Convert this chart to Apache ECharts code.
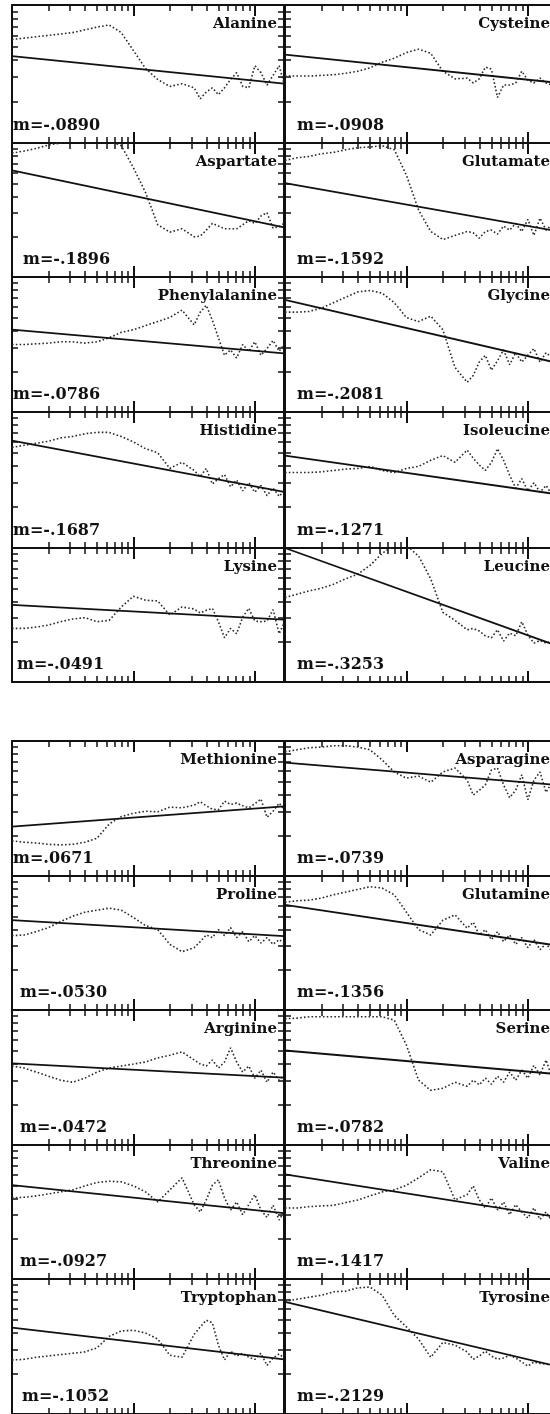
<!DOCTYPE html>
<html><head><meta charset="utf-8">
<script src="https://cdn.jsdelivr.net/npm/echarts@6/dist/echarts.min.js"></script>
<style>html,body{margin:0;padding:0;background:#fff}#c{width:550px;height:1414px}</style>
</head><body><div id="c"></div>
<script>
// ---- DATA (x: log10 of frequency, y: log10 of power, panel spans one decade) ----
const names = ["Alanine","Cysteine","Aspartate","Glutamate","Phenylalanine","Glycine","Histidine","Isoleucine","Lysine","Leucine",
               "Methionine","Asparagine","Proline","Glutamine","Arginine","Serine","Threonine","Valine","Tryptophan","Tyrosine"];
const slopes = [-0.0890,-0.0908,-0.1896,-0.1592,-0.0786,-0.2081,-0.1687,-0.1271,-0.0491,-0.3253,
                0.0671,-0.0739,-0.0530,-0.1356,-0.0472,-0.0782,-0.0927,-0.1417,-0.1052,-0.2129];
const xs = [0,0.1,0.2,0.3,0.4,0.5,0.6,0.7,0.8,0.9,1.0,1.1,1.2,1.3,1.4,1.5,1.55,1.6,1.65,1.7,1.75,1.8,1.85,1.9,1.95,2.0,2.05,2.1,2.15,2.2,2.24];
const xMax = 2.24;
const lineStart = [0.63,0.64,0.795,0.70,0.61,0.83,0.79,0.68,0.575,1.0,0.365,0.84,0.67,0.785,0.605,0.70,0.70,0.78,0.64,0.83];
const lineEnd   = [0.431,0.437,0.370,0.343,0.434,0.364,0.412,0.395,0.465,0.271,0.515,0.674,0.551,0.481,0.499,0.525,0.492,0.463,0.404,0.353];

const alanine = [0.75,0.76,0.77,0.78,0.79,0.80,0.82,0.84,0.855,0.80,0.67,0.54,0.46,0.41,0.43,0.40,0.32,0.37,0.40,0.35,0.40,0.46,0.51,0.41,0.40,0.56,0.51,0.42,0.49,0.56,0.43];
const cysteine = [0.485,0.485,0.485,0.49,0.495,0.505,0.52,0.545,0.585,0.615,0.655,0.68,0.65,0.52,0.465,0.47,0.435,0.465,0.55,0.535,0.33,0.42,0.42,0.435,0.52,0.455,0.435,0.47,0.435,0.42,0.435];
const aspartate = [0.925,0.94,0.96,0.985,1.0,1.015,1.02,1.02,1.015,0.98,0.815,0.63,0.39,0.335,0.36,0.30,0.305,0.35,0.40,0.38,0.36,0.36,0.36,0.39,0.42,0.40,0.455,0.48,0.365,0.375,0.40];
const glutamate = [0.87,0.89,0.90,0.92,0.93,0.95,0.965,0.97,0.98,0.95,0.76,0.50,0.34,0.28,0.31,0.34,0.33,0.29,0.34,0.35,0.32,0.38,0.35,0.40,0.34,0.43,0.31,0.44,0.35,0.39,0.34];
const phenylalanine = [0.50,0.50,0.505,0.51,0.52,0.52,0.51,0.52,0.55,0.59,0.61,0.64,0.67,0.70,0.755,0.645,0.74,0.79,0.68,0.55,0.42,0.46,0.40,0.50,0.45,0.52,0.42,0.47,0.53,0.45,0.50];
const glycine = [0.74,0.74,0.745,0.77,0.81,0.85,0.89,0.90,0.88,0.81,0.70,0.67,0.71,0.61,0.33,0.22,0.27,0.37,0.42,0.31,0.38,0.46,0.35,0.44,0.37,0.42,0.47,0.37,0.44,0.40,0.42];
const histidine = [0.74,0.755,0.77,0.785,0.81,0.82,0.84,0.85,0.85,0.82,0.78,0.73,0.70,0.585,0.63,0.57,0.525,0.585,0.47,0.51,0.54,0.45,0.50,0.42,0.48,0.41,0.46,0.385,0.44,0.38,0.42];
const isoleucine = [0.555,0.555,0.555,0.56,0.57,0.58,0.585,0.60,0.57,0.555,0.585,0.60,0.645,0.68,0.63,0.72,0.66,0.61,0.57,0.63,0.73,0.645,0.535,0.44,0.51,0.42,0.48,0.41,0.46,0.39,0.42];
const lysine = [0.40,0.40,0.41,0.425,0.45,0.47,0.48,0.45,0.46,0.56,0.64,0.61,0.605,0.50,0.56,0.545,0.515,0.535,0.55,0.45,0.33,0.40,0.36,0.485,0.55,0.455,0.45,0.455,0.54,0.36,0.44];
const leucine = [0.63,0.655,0.68,0.70,0.73,0.77,0.805,0.87,0.96,1.02,1.02,0.94,0.77,0.52,0.46,0.39,0.40,0.38,0.345,0.33,0.39,0.305,0.365,0.345,0.45,0.35,0.29,0.31,0.29,0.305,0.28];
const methionine = [0.26,0.25,0.245,0.235,0.23,0.235,0.25,0.28,0.385,0.44,0.465,0.48,0.475,0.51,0.505,0.525,0.55,0.52,0.495,0.49,0.555,0.53,0.54,0.52,0.505,0.535,0.57,0.435,0.48,0.54,0.495];
const asparagine = [0.92,0.935,0.95,0.955,0.965,0.965,0.955,0.935,0.86,0.77,0.725,0.74,0.695,0.77,0.80,0.71,0.60,0.635,0.675,0.785,0.80,0.675,0.58,0.635,0.75,0.565,0.71,0.77,0.62,0.695,0.65];
const proline = [0.555,0.56,0.585,0.615,0.66,0.70,0.73,0.745,0.76,0.745,0.69,0.63,0.60,0.49,0.435,0.465,0.51,0.56,0.54,0.60,0.555,0.615,0.54,0.585,0.51,0.555,0.50,0.54,0.49,0.525,0.50];
const glutamine = [0.805,0.815,0.82,0.835,0.86,0.88,0.90,0.92,0.91,0.86,0.73,0.60,0.56,0.67,0.71,0.61,0.655,0.56,0.60,0.525,0.585,0.51,0.56,0.49,0.54,0.465,0.525,0.45,0.495,0.435,0.48];
const arginine = [0.585,0.57,0.54,0.51,0.48,0.465,0.495,0.54,0.57,0.585,0.60,0.615,0.645,0.665,0.69,0.63,0.60,0.585,0.63,0.57,0.615,0.72,0.615,0.54,0.585,0.495,0.555,0.465,0.54,0.48,0.52];
const serine = [0.935,0.94,0.95,0.95,0.95,0.95,0.95,0.95,0.95,0.925,0.74,0.48,0.405,0.42,0.465,0.435,0.48,0.445,0.495,0.45,0.51,0.465,0.54,0.48,0.555,0.495,0.59,0.52,0.63,0.495,0.555];
const threonine = [0.605,0.61,0.62,0.635,0.65,0.665,0.695,0.72,0.73,0.725,0.695,0.65,0.575,0.665,0.755,0.555,0.50,0.59,0.70,0.74,0.605,0.515,0.575,0.48,0.555,0.63,0.515,0.46,0.55,0.44,0.50];
const valine = [0.53,0.53,0.54,0.545,0.55,0.57,0.59,0.62,0.65,0.665,0.70,0.755,0.815,0.80,0.59,0.63,0.695,0.59,0.53,0.605,0.515,0.575,0.48,0.555,0.50,0.455,0.53,0.445,0.50,0.43,0.48];
const tryptophan = [0.40,0.405,0.42,0.43,0.44,0.45,0.46,0.49,0.575,0.615,0.62,0.60,0.555,0.435,0.42,0.59,0.645,0.695,0.675,0.51,0.40,0.465,0.43,0.45,0.42,0.405,0.45,0.36,0.415,0.445,0.415];
const tyrosine = [0.835,0.85,0.865,0.88,0.905,0.91,0.935,0.94,0.88,0.73,0.645,0.555,0.42,0.53,0.51,0.46,0.405,0.43,0.465,0.43,0.405,0.415,0.435,0.415,0.385,0.355,0.385,0.375,0.37,0.36,0.37];

const curves = [alanine,cysteine,aspartate,glutamate,phenylalanine,glycine,histidine,isoleucine,lysine,leucine,
                methionine,asparagine,proline,glutamine,arginine,serine,threonine,valine,tryptophan,tyrosine];
const minorTickLabels = [2,3,4,5,6,7,8,9,20,30,40,50,60,70,80,90];
const decadeTickLabels = [10,100];
const yTickLabels = [2,3,4,5,6,7,8,9];

// ---- LAYOUT ----
const TOPS =    [5,143,277,412,548, 741,876,1010,1145,1279];
const BOTTOMS = [143,277,412,548,682, 876,1010,1145,1279,1414];
const COL_LEFT = [12,285];
const PANEL_W = 272;
const LEFT_M_DX = [1,11,1,1,5, 1,8,8,8,10];
const INK = '#111';
const FONT = '"DejaVu Serif", "Liberation Serif", serif';

const minorX = minorTickLabels.map(Math.log10);
const decadeX = decadeTickLabels.map(Math.log10);
const minorY = yTickLabels.map(Math.log10);

const grids=[], xAxes=[], yAxes=[], series=[], texts=[];
curves.forEach((c,k)=>{
  const row = Math.floor(k/2), col = k%2;
  const left = COL_LEFT[col], top = TOPS[row], h = BOTTOMS[row]-top;
  grids.push({left, top, width: PANEL_W, height: h, containLabel:false, outerBoundsMode:'none'});
  const xb = {gridIndex:k, type:'value', min:0, max:xMax, axisLabel:{show:false}, splitLine:{show:false}};
  const xi = xAxes.length;
  ['bottom','top'].forEach(pos=>{
    xAxes.push(Object.assign({}, xb, {position:pos,
      axisLine:{show:true,onZero:false,lineStyle:{color:INK,width:2}},
      axisTick:{show:true,inside:true,length:6,customValues:minorX,lineStyle:{color:INK,width:1.5}}}));
    xAxes.push(Object.assign({}, xb, {position:pos,
      axisLine:{show:false,onZero:false},
      axisTick:{show:true,inside:true,length:11,customValues:decadeX,lineStyle:{color:INK,width:2}}}));
  });
  const yi = yAxes.length;
  ['left','right'].forEach(pos=>{
    yAxes.push({gridIndex:k, type:'value', min:0, max:1, position:pos, axisLabel:{show:false}, splitLine:{show:false},
      axisLine:{show:true,onZero:false,lineStyle:{color:INK,width:2}},
      axisTick:{show:true,inside:true,length:6,customValues:minorY,lineStyle:{color:INK,width:1.5}}});
  });
  series.push({type:'line', xAxisIndex:xi, yAxisIndex:yi, data: xs.map((x,i)=>[x,c[i]]),
    showSymbol:false, symbol:'none', clip:true, silent:true,
    lineStyle:{color:'#2a2a2a', width:1.6, type:[1.6,2.2]}});
  series.push({type:'line', xAxisIndex:xi, yAxisIndex:yi, data:[[0,lineStart[k]],[xMax,lineEnd[k]]],
    showSymbol:false, symbol:'none', clip:true, silent:true,
    lineStyle:{color:INK, width:1.8}});
  const m = slopes[k];
  const mText = 'm=' + (m<0?'-':'') + Math.abs(m).toFixed(4).slice(1);
  texts.push({type:'text', x: left+PANEL_W-7, y: top+19, z:100,
    style:{text:names[k], fill:INK, font:'bold 15px '+FONT, align:'right', verticalAlign:'middle'}});
  texts.push({type:'text', x: col ? left+12 : left+LEFT_M_DX[row], y: BOTTOMS[row]-17, z:100,
    style:{text:mText, fill:INK, font:'bold 16px '+FONT, align:'left', verticalAlign:'middle'}});
});

const chart = echarts.init(document.getElementById('c'));
chart.setOption({animation:false, backgroundColor:'#fff', grid:grids, xAxis:xAxes, yAxis:yAxes, series, graphic:{elements:texts}});
</script></body></html>
